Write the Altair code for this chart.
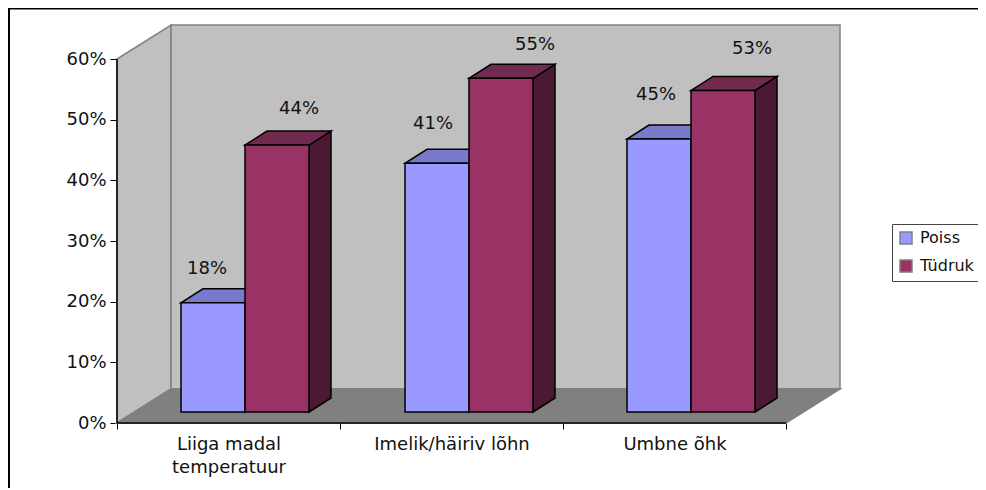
import altair as alt
import pandas as pd

categories = ["Liiga madal\\ntemperatuur", "Imelik/häiriv lõhn", "Umbne õhk"]
series = ["Poiss", "Tüdruk"]
poiss = [18, 41, 45]
tudruk = [44, 55, 53]
ticks = [0, 10, 20, 30, 40, 50, 60]

FONT = "DejaVu Sans"
FS = 18
PX_CAT = 223.0      # pixels per category
PX_PCT = 364 / 60   # pixels per percent
W, H = 724, 398
xu = lambda px: px / PX_CAT
yu = lambda px: px / PX_PCT

DX, DY = xu(54), yu(34)          # room depth
BDX, BDY = xu(22), yu(14)        # bar depth
BASE = yu(11)                    # bar front base height above the axis
BW = [xu(64), xu(64)]
START = [xu(64), xu(288 - 223), xu(510 - 446)]
# Spot-placed labels, (dx, dy) from front-top centre of each bar, in px
SHIFT = {("Poiss", 0): (-6, 34), ("Tüdruk", 0): (22, 36),
         ("Poiss", 1): (-4, 39), ("Tüdruk", 1): (34, 33),
         ("Poiss", 2): (-3, 44), ("Tüdruk", 2): (29, 41)}

YTOP = 60.0
back = []
def poly(rows, pid, pts, **kw):
    for x, lo, hi in pts:
        rows.append(dict(poly=pid, x=x, y=lo, y2=hi, **kw))

# room
poly(back, "left", [(0, 0, YTOP), (DX, DY, YTOP + DY)], fill="#C0C0C0")
poly(back, "wall", [(DX, DY, YTOP + DY), (3 + DX, DY, YTOP + DY)], fill="#C0C0C0")
poly(back, "floor", [(0, 0, 0), (DX, 0, DY), (3, 0, DY), (3 + DX, DY, DY)], fill="#808080")

# bars
bars, labels = [], []
values = {"Poiss": poiss, "Tüdruk": tudruk}
for c in range(3):
    x = c + START[c]
    for s_i, s in enumerate(series):
        v = values[s][c]
        x0, x1 = x, x + BW[s_i]
        top = BASE + v
        pre = f"{c}-{s}"
        poly(bars, pre + "-side", [(x1, BASE, top), (x1 + BDX, BASE + BDY, top + BDY)], face=s + " side")
        poly(bars, pre + "-top", [(x0, top, top), (x0 + BDX, top, top + BDY),
                                   (x1, top, top + BDY), (x1 + BDX, top + BDY, top + BDY)], face=s + " top")
        poly(bars, pre + "-front", [(x0, BASE, top), (x1, BASE, top)], face=s)
        sx, sy = SHIFT[(s, c)]
        labels.append(dict(x=(x0 + x1) / 2 + xu(sx), y=top + yu(sy), text=f"{v}%"))
        x = x1

xs = alt.Scale(domain=[0, W / PX_CAT], range=[0, W], nice=False, zero=False)
ys = alt.Scale(domain=[0, H / PX_PCT], range=[H, 0], nice=False, zero=False)

label_expr = ("datum.value % 1 == 0 ? '' : split(" +
              "[" + ",".join(f"'{c}'" for c in categories) + "][floor(datum.value)], '\\n')")

xaxis = alt.Axis(values=[0, .5, 1, 1.5, 2, 2.5, 3], title=None, domain=False, grid=False,
                 tickColor="black", tickSize=6, tickWidth=1,
                 tickOpacity=alt.condition("datum.value % 1 == 0", alt.value(1), alt.value(0)),
                 labelExpr=label_expr, labelFont=FONT, labelFontSize=FS, labelColor="#111111",
                 labelPadding=6, labelLineHeight=23, labelAngle=0, labelOverlap=False, labelBound=False,
                 labelFlush=False, labelBaseline="top")
yaxis = alt.Axis(values=ticks, title=None, domain=False, grid=False, tickColor="black", tickSize=7,
                 tickWidth=1, labelExpr="datum.value + '%'", labelFont=FONT, labelFontSize=FS,
                 labelColor="#111111", labelPadding=4)

room = alt.Chart(pd.DataFrame(back)).mark_area(stroke="#808080", strokeWidth=1.5, opacity=1, line=False).encode(
    x=alt.X("x:Q", scale=xs, axis=xaxis),
    y=alt.Y("y:Q", scale=ys, axis=yaxis),
    y2="y2:Q",
    fill=alt.Fill("fill:N", scale=None),
    detail="poly:N",
)

face_domain = ["Poiss", "Tüdruk", "Poiss top", "Tüdruk top", "Poiss side", "Tüdruk side"]
face_range = ["#9999FF", "#993366", "#7A7ACC", "#732A4F", "#4C4C80", "#4C1933"]
barlayer = alt.Chart(pd.DataFrame(bars)).mark_area(stroke="black", strokeWidth=1.5, opacity=1).encode(
    x=alt.X("x:Q", scale=xs),
    y=alt.Y("y:Q", scale=ys),
    y2="y2:Q",
    fill=alt.Fill("face:N", scale=alt.Scale(domain=face_domain, range=face_range),
                  legend=alt.Legend(values=series, title=None, orient="none", legendX=775, legendY=199,
                                    symbolType="square", symbolSize=144, symbolStrokeColor="black",
                                    symbolStrokeWidth=1.5, labelFont=FONT, labelFontSize=16,
                                    labelColor="#111111", fillColor="white", strokeColor="#444444",
                                    padding=6, rowPadding=10, labelOffset=6, symbolOpacity=1)),
    detail="poly:N",
)

text = alt.Chart(pd.DataFrame(labels)).mark_text(font=FONT, fontSize=FS, color="#111111").encode(
    x=alt.X("x:Q", scale=xs), y=alt.Y("y:Q", scale=ys), text="text:N")

axis_lines = pd.DataFrame([dict(x=0, x2=0, y=0, y2=YTOP), dict(x=0, x2=3, y=0, y2=0)])
lines = alt.Chart(axis_lines).mark_rule(color="black", strokeWidth=1.5).encode(
    x=alt.X("x:Q", scale=xs), x2="x2:Q", y=alt.Y("y:Q", scale=ys), y2="y2:Q")

frame_left = alt.Chart(pd.DataFrame({"a": [0]})).mark_rule(color="black", strokeWidth=2).encode(
    x=alt.value(-108), y=alt.value(-17), y2=alt.value(470))
frame_top = alt.Chart(pd.DataFrame({"a": [0]})).mark_rule(color="black", strokeWidth=2).encode(
    x=alt.value(-108), x2=alt.value(880), y=alt.value(-16.5))

chart = alt.layer(room, barlayer, lines, text, frame_left, frame_top).resolve_scale(
    x="shared", y="shared"
).properties(
    width=W, height=H, autosize="none",
    padding={"left": 109, "top": 17, "right": 137, "bottom": 65},
    background="white",
).configure_view(stroke=None)

chart.save("out.html", embed_options={"renderer": "svg", "actions": False})
